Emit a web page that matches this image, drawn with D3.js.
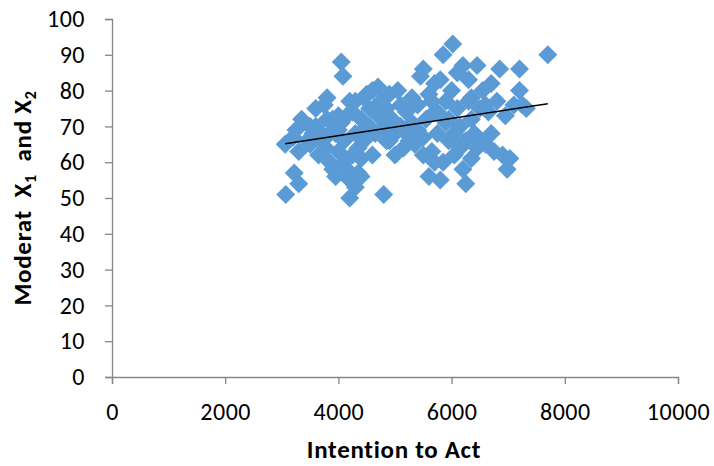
<!DOCTYPE html>
<html><head><meta charset="utf-8">
<script src="https://cdn.jsdelivr.net/npm/d3@7"></script>
<style>body{margin:0;background:#fff}svg{display:block}</style>
</head><body>
<svg id="chart" width="714" height="466"></svg>
<script>
const intention = [3060,3070,3220,3300,3200,3250,3350,3300,3450,3500,3550,3600,3650,3700,3750,3800,3780,3850,3700,3900,3950,3900,3950,4000,4050,4080,4000,4050,4100,4100,4150,4200,4200,4250,4250,4300,4300,4350,4350,4400,4400,4450,4500,4500,4550,4600,4600,4650,4700,4700,4750,4800,4800,4850,4850,4900,4950,5000,5000,5050,5100,5100,5150,5200,5250,5300,5350,5400,5450,5500,5500,5550,5600,5600,5650,5700,5700,5750,5800,5800,5850,5850,5900,5900,5950,6000,6020,6050,6100,6100,6150,6200,6200,6250,6250,6300,6300,6350,6350,6400,6450,6450,6500,6550,6600,6650,6700,6750,6800,6850,6900,6950,6980,7030,7100,7200,7200,7250,7320,7700,3500,3600,3800,3850,4000,4150,4200,4450,4550,4650,4900,5200,5300,5400,5650,5750,5950,6050,6150,6350,6500,6600,6700,5500,5700,4400,4300];
const moderat = [65,51,57,54,67,69,72,63,66,70,68,75,62,68,76,78,64,60,66,72,68,58,56,63,88,84,73,71,66,60,58,50,55,62,74,77,68,64,57,72,61,66,79,70,75,62,80,68,81,73,77,51,70,66,75,79,72,62,68,80,76,70,64,74,66,71,65,76,84,86,67,72,56,79,63,74,82,68,55,83,90,60,71,77,66,80,93,62,75,85,70,87,58,54,66,77,83,72,61,68,87,64,75,80,65,74,82,63,77,86,62,73,58,61,76,86,80,76,75,90,65,70,72,68,69,73,77,78,70,75,66,68,78,69,77,74,72,68,64,78,66,76,68,62,60,56,53];
const xTicks = [0,2000,4000,6000,8000,10000];
const yTicks = [0,10,20,30,40,50,60,70,80,90,100];

const svg = d3.select('#chart');
const x = d3.scaleLinear().domain([0,10000]).range([112,678]);
const y = d3.scaleLinear().domain([0,100]).range([377,19]);
const font = "Carlito, Calibri, Lato, 'Open Sans', sans-serif";
const axisColor = '#868686';

const yAxis = svg.append('g').attr('transform','translate(112,0)')
  .call(d3.axisLeft(y).tickValues(yTicks).tickSize(7).tickPadding(20).tickFormat(d3.format('d')));
const xAxis = svg.append('g').attr('transform','translate(0,377)')
  .call(d3.axisBottom(x).tickValues(xTicks).tickSize(7).tickPadding(19).tickFormat(d3.format('d')));
[yAxis,xAxis].forEach(g=>{
  g.select('.domain').attr('stroke',axisColor).attr('stroke-width',1.3);
  g.selectAll('.tick line').attr('stroke',axisColor).attr('stroke-width',1.3);
  g.selectAll('.tick text').attr('fill','#000').style('font-family',font).style('font-size','24px').style('letter-spacing','0.5px');
});
xAxis.selectAll('.tick text').attr('dy','0.72em');

const pts = intention.map((v,i)=>({x:v,y:moderat[i]}));
const r = 9.5;
svg.append('g').selectAll('path').data(pts).join('path')
  .attr('d',d=>{const cx=x(d.x), cy=y(d.y);return `M${cx},${cy-r}L${cx+r},${cy}L${cx},${cy+r}L${cx-r},${cy}Z`;})
  .attr('fill','#5B9BD5');

// linear regression trendline
const mx = d3.mean(pts,d=>d.x), my = d3.mean(pts,d=>d.y);
const slope = d3.sum(pts,d=>(d.x-mx)*(d.y-my))/d3.sum(pts,d=>(d.x-mx)**2);
const icpt = my - slope*mx;
const [xmin,xmax] = d3.extent(intention);
svg.append('line')
  .attr('x1',x(xmin)).attr('y1',y(icpt+slope*xmin))
  .attr('x2',x(xmax)).attr('y2',y(icpt+slope*xmax))
  .attr('stroke','#000').attr('stroke-width',1.5);

svg.append('text').attr('x',394).attr('y',458).attr('text-anchor','middle')
  .style('font-family',font).style('font-size','25px').style('font-weight','bold').style('letter-spacing','0.7px').text('Intention to Act');

const yt = svg.append('text').attr('transform','translate(31,198) rotate(-90)').attr('text-anchor','middle')
  .style('font-family',font).style('font-size','25px').style('font-weight','bold').style('letter-spacing','0.7px').style('white-space','pre');
yt.append('tspan').text('Moderat  X');
yt.append('tspan').attr('font-size','16px').attr('dy',5).text('1');
yt.append('tspan').attr('dy',-5).text('  and X');
yt.append('tspan').attr('font-size','16px').attr('dy',5).text('2');
</script>
</body></html>
